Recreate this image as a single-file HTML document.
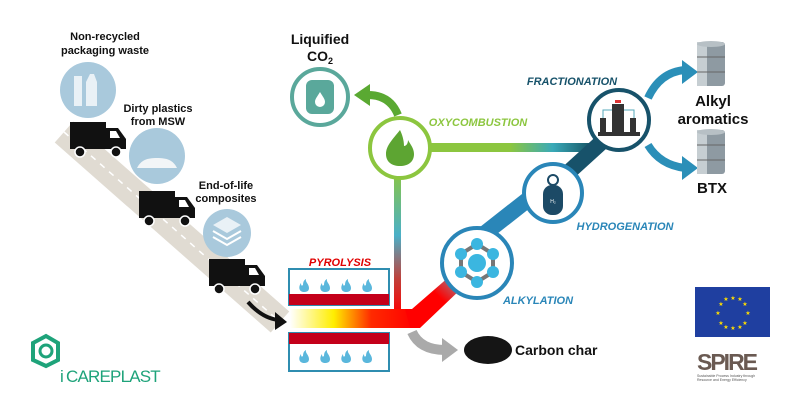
<!DOCTYPE html>
<html><head><meta charset="utf-8"><style>
html,body{margin:0;padding:0;background:#fff;}
svg{display:block;font-family:"Liberation Sans",Arial,sans-serif;}
.t{font-weight:bold;font-size:11px;fill:#111;text-anchor:middle}
.L{font-weight:bold;font-style:italic;font-size:11px;text-anchor:middle}
</style></head><body>
<svg width="800" height="400" viewBox="0 0 800 400" xmlns="http://www.w3.org/2000/svg">
<defs>
<linearGradient id="yr" x1="0" x2="1" y1="0" y2="0">
<stop offset="0" stop-color="#fff"/><stop offset="0.35" stop-color="#ffee00"/><stop offset="0.65" stop-color="#ff2a00"/><stop offset="1" stop-color="#f00"/></linearGradient>
<linearGradient id="vg" x1="0" x2="0" y1="0" y2="1">
<stop offset="0" stop-color="#8cc63f"/><stop offset="0.45" stop-color="#4ab0c8"/><stop offset="0.75" stop-color="#c0403a"/><stop offset="1" stop-color="#f00"/></linearGradient>
<linearGradient id="hg" x1="0" x2="1" y1="0" y2="0">
<stop offset="0" stop-color="#8cc63f"/><stop offset="0.5" stop-color="#8cc63f"/><stop offset="0.75" stop-color="#3aaab8"/><stop offset="1" stop-color="#134d5e"/></linearGradient>
<linearGradient id="rb" x1="0" x2="1" y1="1" y2="0">
<stop offset="0" stop-color="#f00"/><stop offset="0.6" stop-color="#f00"/><stop offset="1" stop-color="#8a9aa8"/></linearGradient>
<g id="truck"><rect x="0" y="0" width="36" height="20" fill="#111"/><path d="M36 6 H48 L56 17 V27 H36Z" fill="#111"/><rect x="0" y="20" width="56" height="7" fill="#111"/><path d="M40 9h6l4 7h-10z" fill="#fff"/><circle cx="10" cy="30" r="5" fill="#111" stroke="#fff" stroke-width="1.5"/><circle cx="46" cy="30" r="5" fill="#111" stroke="#fff" stroke-width="1.5"/></g>
<g id="fl"><path d="M0 8c-5 0-6-5-3-9 0 3 1 3 2 2 0-3 1-5 3-6-1 3 3 5 3 9 0 3-2 4-5 4z" fill="#5ab7dc"/></g>
<g id="barrel"><rect x="-14" y="0" width="28" height="44" rx="3" fill="#8e9aa2"/><rect x="-14" y="0" width="10" height="44" fill="#c6ced2"/><ellipse cx="0" cy="2" rx="14" ry="3" fill="#b7c0c5"/><line x1="-14" y1="15" x2="14" y2="15" stroke="#666"/><line x1="-14" y1="30" x2="14" y2="30" stroke="#666"/></g>
</defs>
<path d="M64 132 L280 322" stroke="#e0dbd2" stroke-width="28" fill="none"/>
<path d="M64 132 L280 322" stroke="#fff" stroke-width="1.5" stroke-dasharray="6 6" fill="none"/>
<circle cx="88" cy="90" r="28" fill="#a9c9dc"/>
<path d="M74 106v-30h8v30zM86 106v-24l4-8h4l3 8v24z" fill="#e9f1f6"/>
<circle cx="157" cy="156" r="28" fill="#a9c9dc"/>
<path d="M137 168c4-8 10-10 20-10s16 2 20 10z" fill="#f2f5f7"/>
<circle cx="227" cy="233" r="24" fill="#a9c9dc"/>
<path d="M227 217l14 8-14 8-14-8z" fill="#e9f1f6"/><path d="M213 231l14 8 14-8M213 237l14 8 14-8" stroke="#fff" stroke-width="2" fill="none"/>
<use href="#truck" x="70" y="122"/>
<use href="#truck" x="139" y="191"/>
<use href="#truck" x="209" y="259"/>
<text class="t" x="105" y="40">Non-recycled</text><text class="t" x="105" y="54">packaging waste</text>
<text class="t" x="158" y="112">Dirty plastics</text><text class="t" x="158" y="125">from MSW</text>
<text class="t" x="226" y="189">End-of-life</text><text class="t" x="226" y="202">composites</text>
<path d="M248 302 Q262 318 278 320" stroke="#111" stroke-width="4" fill="none"/><path d="M275 312 L287 322 L275 330Z" fill="#111"/>
<text class="L" x="340" y="266" fill="#e00000" font-size="12">PYROLYSIS</text>
<rect x="289" y="269" width="100" height="36" fill="#fff" stroke="#2f8db0" stroke-width="2"/>
<rect x="289" y="294" width="100" height="11" fill="#c4001a"/>
<use href="#fl" x="304" y="284"/><use href="#fl" x="325" y="284"/><use href="#fl" x="346" y="284"/><use href="#fl" x="367" y="284"/>
<rect x="289" y="333" width="100" height="38" fill="#fff" stroke="#2f8db0" stroke-width="2"/>
<rect x="289" y="333" width="100" height="11" fill="#c4001a"/>
<use href="#fl" x="304" y="355"/><use href="#fl" x="325" y="355"/><use href="#fl" x="346" y="355"/><use href="#fl" x="367" y="355"/>
<rect x="394" y="170" width="7" height="145" fill="url(#vg)"/>
<rect x="290" y="309" width="125" height="19" fill="url(#yr)"/>
<path d="M410 328 L420 328 L462 288 L450 276 L412 309 L405 309Z" fill="url(#rb)"/>
<rect x="425" y="143" width="170" height="9" fill="url(#hg)"/>
<path d="M470 245 L540 190" stroke="#2a86b8" stroke-width="16"/>
<path d="M560 180 L615 130" stroke="#17526a" stroke-width="16"/>
<path d="M412 332 Q420 350 445 350" stroke="#aaa" stroke-width="10" fill="none"/><path d="M442 338 L458 350 L442 362Z" fill="#aaa"/>
<ellipse cx="488" cy="350" rx="24" ry="14" fill="#151515"/>
<text x="515" y="355" font-size="14" font-weight="bold" fill="#111">Carbon char</text>
<circle cx="400" cy="148" r="30" fill="#fff" stroke="#8cc63f" stroke-width="4"/>
<path d="M400 130c-8 10-14 16-14 24 0 8 6 12 14 12s14-4 14-12c0-6-4-10-6-14 0 4-2 6-4 6 0-6-2-12-4-16z" fill="#5da532"/>
<circle cx="320" cy="97" r="28" fill="#fff" stroke="#5aa89b" stroke-width="4"/>
<rect x="306" y="80" width="28" height="34" rx="6" fill="#5aa89b"/><path d="M320 92c-3 5-5 7-5 10a5 5 0 0 0 10 0c0-3-2-5-5-10z" fill="#fff"/>
<path d="M398 115 Q390 95 368 95" stroke="#5aa932" stroke-width="8" fill="none"/><path d="M370 84 L354 95 L370 106Z" fill="#5aa932"/>
<text x="320" y="44" font-size="14" font-weight="bold" text-anchor="middle" fill="#111">Liquified</text>
<text x="320" y="61" font-size="14" font-weight="bold" text-anchor="middle" fill="#111">CO<tspan font-size="9" dy="3">2</tspan></text>
<circle cx="477" cy="263" r="35" fill="#fff" stroke="#2a86b8" stroke-width="4"/>
<path d="M477 244 L493 254 V272 L477 282 L461 272 V254Z" stroke="#777" stroke-width="4" fill="none"/>
<circle cx="477" cy="263" r="9" fill="#3bb6e0"/>
<g fill="#3bb6e0"><circle cx="477" cy="244" r="6"/><circle cx="493" cy="254" r="6"/><circle cx="493" cy="272" r="6"/><circle cx="477" cy="282" r="6"/><circle cx="461" cy="272" r="6"/><circle cx="461" cy="254" r="6"/></g>
<circle cx="553" cy="193" r="29" fill="#fff" stroke="#2a86b8" stroke-width="4"/>
<rect x="543" y="185" width="20" height="30" rx="9" fill="#1c4a66"/><circle cx="553" cy="180" r="5" fill="#fff" stroke="#1c4a66" stroke-width="2"/>
<text x="553" y="203" font-size="5" fill="#fff" text-anchor="middle">H₂</text>
<circle cx="619" cy="120" r="30" fill="#fff" stroke="#17526a" stroke-width="4"/>
<rect x="612" y="104" width="12" height="28" fill="#333"/><rect x="600" y="118" width="6" height="14" fill="#333"/><rect x="630" y="118" width="6" height="14" fill="#333"/><rect x="598" y="132" width="42" height="4" fill="#333"/><rect x="615" y="100" width="6" height="3" fill="#d33"/><path d="M603 118v-8h9M634 118v-8h-10" stroke="#5ab" fill="none"/>
<path d="M648 98 Q660 72 685 70" stroke="#2b8fb8" stroke-width="8" fill="none"/><path d="M682 60 L698 72 L682 84Z" fill="#2b8fb8"/>
<path d="M648 145 Q660 165 685 168" stroke="#2b8fb8" stroke-width="8" fill="none"/><path d="M682 156 L698 168 L682 180Z" fill="#2b8fb8"/>
<use href="#barrel" x="711" y="42"/><use href="#barrel" x="711" y="130"/>
<text x="713" y="106" font-size="15" font-weight="bold" text-anchor="middle" fill="#111">Alkyl</text>
<text x="713" y="124" font-size="15" font-weight="bold" text-anchor="middle" fill="#111">aromatics</text>
<text x="712" y="193" font-size="15" font-weight="bold" text-anchor="middle" fill="#111">BTX</text>
<text class="L" x="478" y="126" fill="#8cc63f">OXYCOMBUSTION</text>
<text class="L" x="572" y="85" fill="#17526a">FRACTIONATION</text>
<text class="L" x="625" y="230" fill="#2a86b8">HYDROGENATION</text>
<text class="L" x="538" y="304" fill="#2a86b8">ALKYLATION</text>
<rect x="695" y="287" width="75" height="50" fill="#1f3fa0"/>
<g fill="#ffdd00" font-size="6" text-anchor="middle"><text x="733" y="300">★</text><text x="733" y="330">★</text><text x="718" y="315">★</text><text x="748" y="315">★</text><text x="721" y="306">★</text><text x="745" y="306">★</text><text x="721" y="325">★</text><text x="745" y="325">★</text><text x="726" y="301">★</text><text x="740" y="301">★</text><text x="726" y="329">★</text><text x="740" y="329">★</text></g>
<text x="697" y="370" font-size="23" font-weight="bold" fill="#6a5a52" letter-spacing="-2">SPIRE</text>
<text x="697" y="377" font-size="3.5" fill="#555">Sustainable Process Industry through</text>
<text x="697" y="381" font-size="3.5" fill="#555">Resource and Energy Efficiency</text>
<path d="M33 343 L46 336 L58 343 L58 360 L46 366 L33 360Z" fill="none" stroke="#1ea37a" stroke-width="4"/>
<circle cx="46" cy="351" r="6" fill="none" stroke="#1ea37a" stroke-width="3"/>
<text x="60" y="382" font-size="17" fill="#1ea37a">i</text>
<text x="66" y="382" font-size="17" fill="#1ea37a" letter-spacing="-0.8">CAREPLAST</text>
</svg>
</body></html>
